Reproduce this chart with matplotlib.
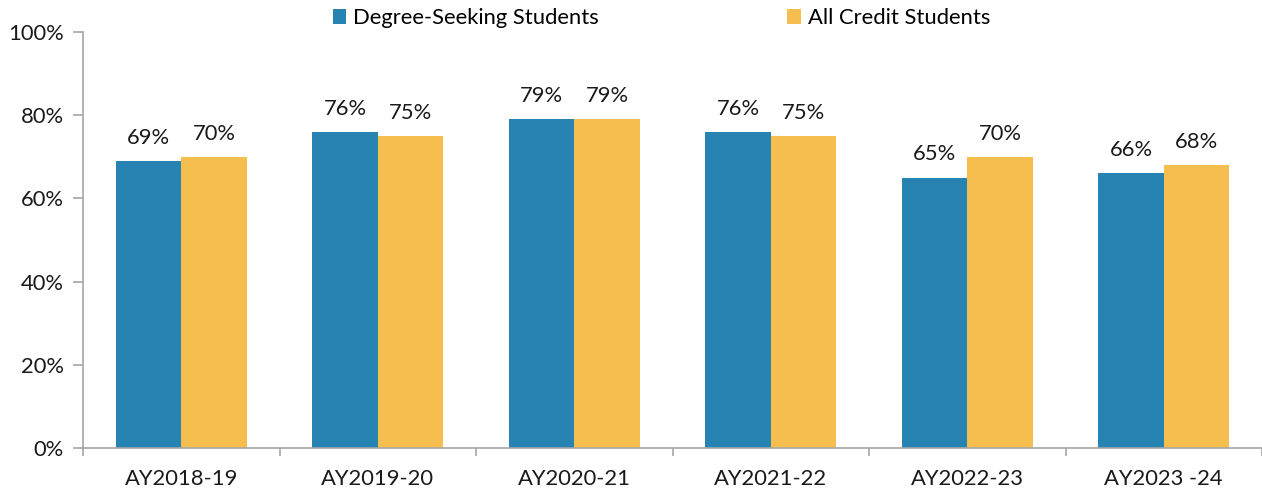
import matplotlib
matplotlib.use("Agg")
import matplotlib.pyplot as plt
import numpy as np

categories = ["AY2018-19", "AY2019-20", "AY2020-21", "AY2021-22", "AY2022-23", "AY2023 -24"]
degree_seeking = [69, 76, 79, 76, 65, 66]
all_credit = [70, 75, 79, 75, 70, 68]
series_names = ["Degree-Seeking Students", "All Credit Students"]
y_ticks = [0, 20, 40, 60, 80, 100]

BLUE = "#2683B2"
GOLD = "#F6BE4F"
GRID = "#A6A6A6"
FS = 15.8

plt.rcParams["font.family"] = ["Lato", "DejaVu Sans"]

fig = plt.figure(figsize=(12.62, 4.94), dpi=100)
ax = fig.add_axes([83 / 1262, 1 - 448 / 494, 1 - 83 / 1262, (448 - 32) / 494])

x = np.arange(len(categories))
w = 1 / 3
b1 = ax.bar(x - w / 2, degree_seeking, width=w, color=BLUE, label=series_names[0])
b2 = ax.bar(x + w / 2, all_credit, width=w, color=GOLD, label=series_names[1])

for bars, vals in ((b1, degree_seeking), (b2, all_credit)):
    for r, v in zip(bars, vals):
        ax.annotate(f"{v}%", (r.get_x() + r.get_width() / 2, v),
                    xytext=(0, 9.5), textcoords="offset points",
                    ha="center", va="bottom", fontsize=FS, color="#1a1a1a")

ax.set_xlim(-0.5, len(categories) - 0.5)
ax.set_ylim(0, 100)
ax.set_yticks(y_ticks)
ax.set_yticklabels([f"{t}%" for t in y_ticks], fontsize=FS, color="#1a1a1a")

ax.set_xticks(x)
ax.set_xticklabels(categories, fontsize=FS, color="#1a1a1a")
ax.set_xticks(np.arange(-0.5, len(categories), 1), minor=True)
ax.tick_params(axis="x", which="major", length=0, pad=15)
ax.tick_params(axis="x", which="minor", length=6, color=GRID, width=1.2)
ax.tick_params(axis="y", length=7, color=GRID, width=1.2, pad=7)

for s in ("top", "right"):
    ax.spines[s].set_visible(False)
for s in ("left", "bottom"):
    ax.spines[s].set_color(GRID)
    ax.spines[s].set_linewidth(1.2)

leg = fig.legend(handles=[b1, b2], loc="center", bbox_to_anchor=(0.524, 0.963),
                 ncol=2, frameon=False, fontsize=FS, handlelength=0.62,
                 handleheight=0.62, handletextpad=0.3, columnspacing=8.6)

fig.savefig("out.png", dpi=100)
